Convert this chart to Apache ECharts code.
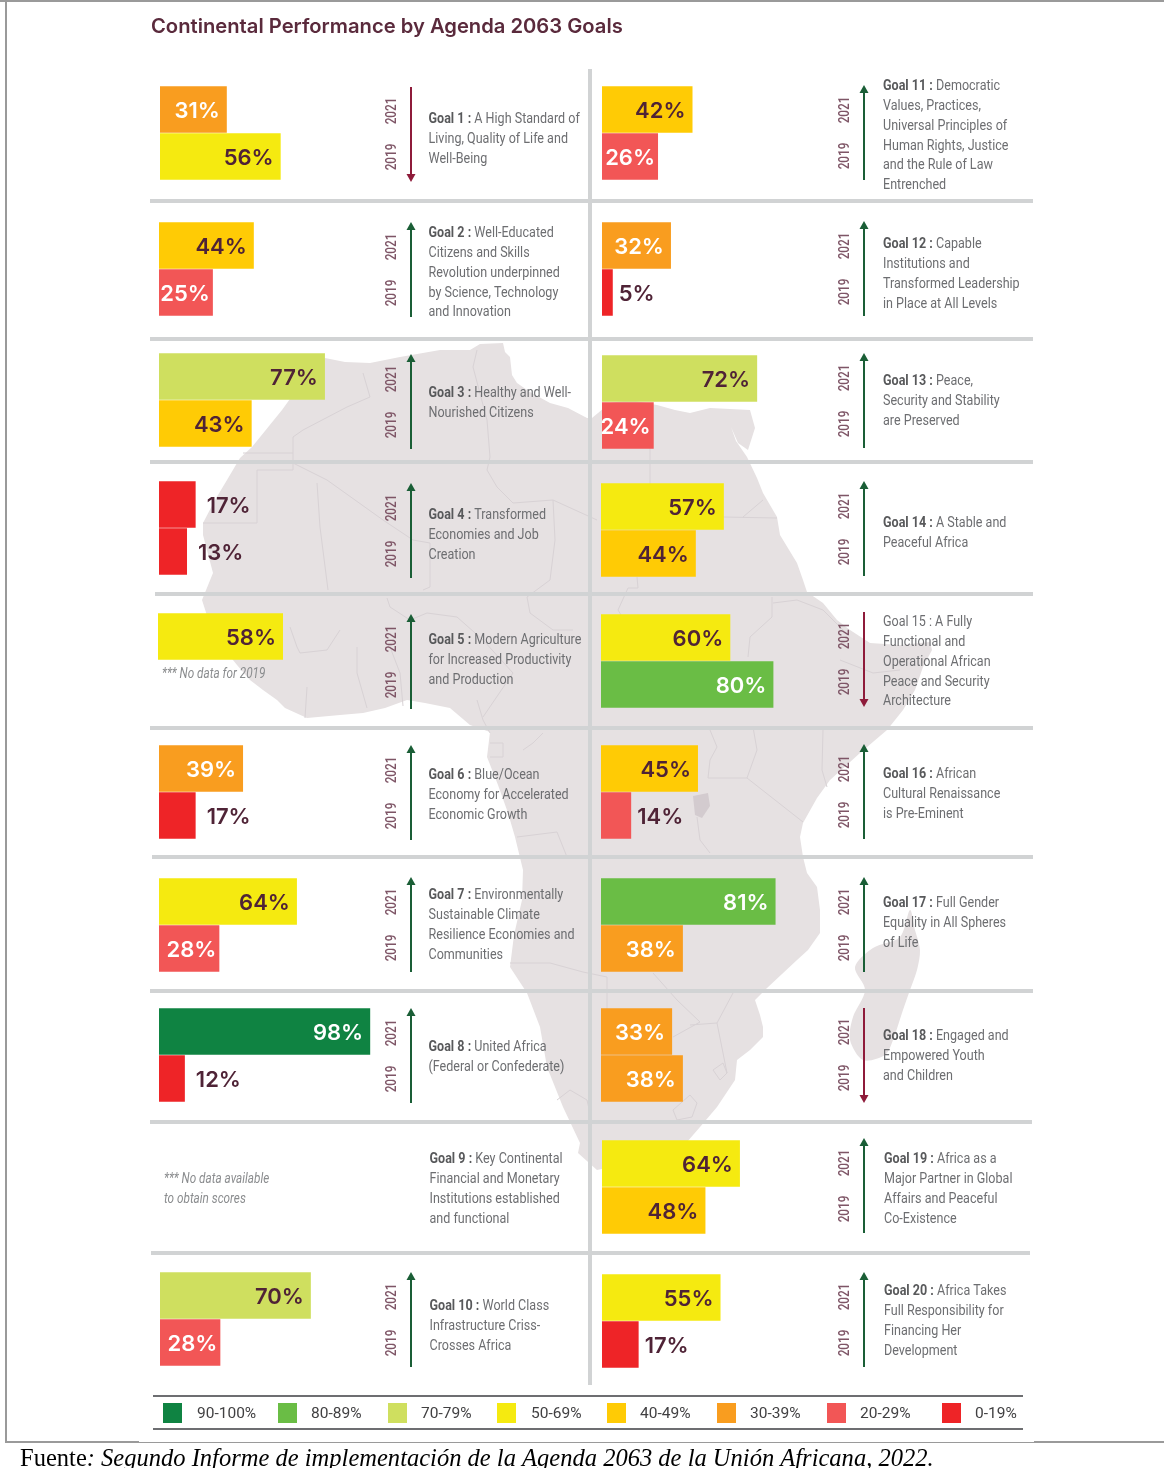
<!DOCTYPE html>
<html><head><meta charset="utf-8">
<style>html,body{margin:0;padding:0;background:#fff}#c{width:1164px;height:1468px}</style>
<script src="https://cdn.jsdelivr.net/npm/echarts@6/dist/echarts.min.js"></script>
</head><body><div id="c"></div>
<script>
// ---------- DATA ----------
const years = ['2021', '2019'];
const goalNames = ['Goal 1 :','Goal 2 :','Goal 3 :','Goal 4 :','Goal 5 :','Goal 6 :','Goal 7 :','Goal 8 :','Goal 9 :','Goal 10 :',
  'Goal 11 :','Goal 12 :','Goal 13 :','Goal 14 :','Goal 15 :','Goal 16 :','Goal 17 :','Goal 18 :','Goal 19 :','Goal 20 :'];
const values2021 = [31,44,77,17,58,39,64,98,null,70, 42,32,72,57,60,45,81,33,64,55];
const values2019 = [56,25,43,13,null,17,28,12,null,28, 26,5,24,44,80,14,38,38,48,17];
const goalLines = [
  ['A High Standard of','Living, Quality of Life and','Well-Being'],
  ['Well-Educated','Citizens and Skills','Revolution underpinned','by Science, Technology','and Innovation'],
  ['Healthy and Well-','Nourished Citizens'],
  ['Transformed','Economies and Job','Creation'],
  ['Modern Agriculture','for Increased Productivity','and Production'],
  ['Blue/Ocean','Economy for Accelerated','Economic Growth'],
  ['Environmentally','Sustainable Climate','Resilience Economies and','Communities'],
  ['United Africa','(Federal or Confederate)'],
  ['Key Continental','Financial and Monetary','Institutions established','and functional'],
  ['World Class','Infrastructure Criss-','Crosses Africa'],
  ['Democratic','Values, Practices,','Universal Principles of','Human Rights, Justice','and the Rule of Law','Entrenched'],
  ['Capable','Institutions and','Transformed Leadership','in Place at All Levels'],
  ['Peace,','Security and Stability','are Preserved'],
  ['A Stable and','Peaceful Africa'],
  ['A Fully','Functional and','Operational African','Peace and Security','Architecture'],
  ['African','Cultural Renaissance','is Pre-Eminent'],
  ['Full Gender','Equality in All Spheres','of Life'],
  ['Engaged and','Empowered Youth','and Children'],
  ['Africa as a','Major Partner in Global','Affairs and Peaceful','Co-Existence'],
  ['Africa Takes','Full Responsibility for','Financing Her','Development']
];
const bandLabels = ['90-100%','80-89%','70-79%','50-69%','40-49%','30-39%','20-29%','0-19%'];
const bandFloors = [90,80,70,50,40,30,20,0];
const bandColors = ['#0f8342','#6abd45','#cfdf5f','#f5ea10','#ffcb05','#f99d1f','#f25656','#ee2427'];
const whiteLabelBands = ['90-100%','80-89%','30-39%','20-29%'];
const titleText = 'Continental Performance by Agenda 2063 Goals';
const noteNoData2019 = '*** No data for 2019';
const noteNoDataGoal9 = '*** No data available\nto obtain scores';
const sourcePrefix = 'Fuente';
const sourceText = ': Segundo Informe de implementación de la Agenda 2063 de la Unión Africana, 2022.';

// ---------- LAYOUT ----------
const barLeft = [160,159,159,159,158,159,159,159,160,160, 602,602,602,601,601,601,601,601,602,602];
const barTop  = [86,222,353,481,613,745,878,1008,1140,1272, 86,222,355,483,614,745,878,1008,1140,1274];
const textX   = [428.5,428.5,428.5,428.5,428.5,428.5,428.5,428.5,429.5,429.5, 883,883,883,883,883,883,883,883,884,884];
const textTop = [118,232,392,514,639,774,894,1046,1158,1305, 85,243,380,522,621,773,902,1035,1158,1290];
const arrowTop= [87,223,355,484,615,746,878,1009,0,1273, 86,222,354,482,612,745,878,1008,1139,1273];
const unboldGoals = ['Goal 15 :'];
const bandOverride = {'Goal 16 :':{'2019':'20-29%'}};
const hLines = [[150,1033,201],[150,1033,339],[150,1033,462],[155,1033,594],[150,1033,728],[152,1033,857],[150,1033,991],[150,1032,1122],[151,1030,1253]];
const FULL_W = 215.5, BAR_H = 47, ARROW_LEN = 94, NARROW_X = 0.81;
const YEAR_X = [392, 845], ARROW_X = [411, 864], YEAR_DY = [24, 70];
const INK = '#4f2336', GREY = '#6d6e71', RULE = '#d1d3d4', LAND = '#e6e1e2', BORDER = '#d8d2d5';
const BASE = 'Roboto,sans-serif';

const africa = [[325,358],[345,362],[370,363],[400,357],[440,350],[470,350],[480,344],[503,343],[505,352],[510,357],[512,375],[517,383],[530,392],[550,403],[568,408],[587,418],[592,418],[610,403],[630,400],[657,405],[675,410],[690,413],[710,408],[730,409],[750,410],[755,428],[748,450],[738,443],[731,427],[736,441],[747,457],[757,478],[763,493],[777,517],[780,535],[797,563],[803,580],[807,592],[823,603],[837,620],[850,630],[870,643],[900,645],[930,642],[932,650],[923,667],[915,690],[903,710],[887,730],[860,753],[830,780],[817,798],[803,823],[800,837],[803,857],[807,873],[817,887],[820,910],[820,933],[808,950],[797,960],[767,988],[755,1000],[760,1015],[763,1027],[763,1037],[750,1050],[737,1060],[735,1080],[717,1107],[700,1127],[680,1150],[650,1162],[620,1165],[597,1170],[578,1153],[580,1143],[563,1107],[547,1067],[540,1027],[527,993],[510,967],[514,935],[522,900],[523,870],[515,837],[508,813],[498,785],[487,757],[490,732],[470,725],[450,708],[425,703],[407,700],[385,708],[363,713],[340,715],[307,718],[285,708],[277,700],[263,690],[250,680],[237,665],[225,650],[210,625],[202,600],[213,573],[203,535],[203,523],[215,500],[227,480],[240,458],[252,447],[282,410],[300,385]];
const madagascar = [[910,910],[915,930],[920,950],[917,970],[910,990],[903,1010],[893,1040],[885,1055],[863,1060],[850,1040],[853,1017],[865,990],[855,967],[873,948],[900,937]];
const lake = [[693,796],[708,793],[710,806],[702,818],[695,815]];
const borders = [
 [[293,437],[293,470],[257,470],[257,523],[248,523],[203,523]],[[243,453],[293,453]],
 [[293,437],[303,430],[347,407],[370,397],[363,373]],[[293,463],[327,480],[383,520],[413,540],[430,543]],
 [[317,483],[320,527],[328,590]],[[477,350],[473,367],[487,420],[490,457],[487,470],[497,487],[513,503],[553,500],[597,520]],
 [[430,543],[430,587],[423,590]],[[553,500],[555,540],[550,580],[527,597]],
 [[650,448],[650,517]],[[723,517],[777,518]],[[743,517],[763,500]],
 [[637,577],[638,588],[628,588],[618,610],[632,633]],[[772,597],[772,617],[750,637],[748,657]],
 [[773,603],[797,600],[823,610],[843,630]],[[840,660],[873,673],[900,670]],
 [[710,730],[717,747],[710,760],[708,778],[747,778],[803,822]],[[753,727],[757,750],[747,778]],
 [[823,730],[822,770],[827,787]],[[697,817],[700,840],[710,853]],
 [[490,743],[503,743],[503,757],[490,757]],[[523,750],[533,743],[543,733]],[[477,700],[483,720],[490,733]],
 [[517,837],[557,832],[567,857]],[[510,963],[550,963],[583,972],[607,977],[607,1010]],
 [[653,973],[677,1000],[700,1022],[673,1037]],[[733,993],[717,1023],[727,1073]],[[717,1023],[690,1025]],
 [[557,1100],[570,1090],[587,1100],[590,1113]],[[673,1110],[690,1095],[697,1103],[692,1117],[677,1120],[673,1110]],
 [[713,1070],[723,1063],[727,1073],[720,1080],[713,1070]],
 [[307,687],[305,718]],[[290,627],[297,647],[300,653],[327,650]],[[340,630],[327,650]],
 [[387,598],[390,607],[410,620],[427,613],[457,617],[483,640]],[[357,647],[357,673],[367,708]],
 [[390,647],[400,673],[403,706]],[[483,640],[513,673],[483,717]],[[527,597],[530,613],[553,630],[573,630]]
];
const legendSwatchX = [163,278,388,497,607,717,827,942];
const legendTextX = [197,311,421,531,640,750,860,975];

// ---------- BUILD ----------
function bandOf(goal, year, v) {
  const o = bandOverride[goal];
  if (o && o[year]) return o[year];
  return bandLabels[bandFloors.findIndex(f => v >= f)];
}
const grids = [], xAxes = [], yAxes = [], series = [], gfx = [];

gfx.push({type:'polygon', shape:{points:africa}, style:{fill:LAND}, silent:true});
gfx.push({type:'polygon', shape:{points:madagascar, smooth:0.3}, style:{fill:LAND}, silent:true});
borders.forEach(b => gfx.push({type:'polyline', shape:{points:b}, style:{stroke:BORDER, lineWidth:1, fill:null}, silent:true}));
gfx.push({type:'polygon', shape:{points:lake}, style:{fill:'#d3cbcf'}, silent:true});

hLines.forEach(l => gfx.push({type:'rect', shape:{x:l[0], y:l[2]-2, width:l[1]-l[0], height:4}, style:{fill:RULE}, silent:true}));
gfx.push({type:'rect', shape:{x:588, y:69, width:4, height:1316}, style:{fill:RULE}, silent:true});

// page frame
[[0,0,1164,2,'#9a9a9a'],[5,0,2,1442,'#9a9a9a'],[5,1441,134,2,'#9a9a9a'],[139,1442,895,1,'#9a9a9a'],[1034,1441,130,2,'#9a9a9a']]
  .forEach(r => gfx.push({type:'rect', shape:{x:r[0], y:r[1], width:r[2], height:r[3]}, style:{fill:r[4]}, silent:true}));

goalNames.forEach((name, i) => {
  const col = i < 10 ? 0 : 1;
  const v21 = values2021[i], v19 = values2019[i];
  // goal text
  const bold = !unboldGoals.includes(name);
  const txt = goalLines[i].map((ln, k) => k === 0 ? `{${bold?'b':'n'}|${name}}{n| ${ln}}` : `{n|${ln}}`).join('\n');
  gfx.push({type:'text', x:textX[i], y:textTop[i]-8.5, scaleX:NARROW_X, silent:true, style:{text:txt, align:'left', verticalAlign:'top',
    rich:{b:{font:`bold 15.5px ${BASE}`, fill:'#58595b', lineHeight:19.8}, n:{font:`15.5px ${BASE}`, fill:GREY, lineHeight:19.8}}}});
  if (v21 === null) return;
  // arrow (direction from data)
  const up = v19 === null || v21 >= v19;
  const ax = ARROW_X[col], at = arrowTop[i], ab = at + ARROW_LEN, color = up ? '#1a5e36' : '#8e1b3a';
  gfx.push({type:'line', shape:{x1:ax, y1:at+(up?3:0), x2:ax, y2:ab-(up?0:3)}, style:{stroke:color, lineWidth:2}, silent:true});
  gfx.push({type:'polygon', silent:true, style:{fill:color},
    shape:{points: up ? [[ax,at-1],[ax-4.5,at+7],[ax+4.5,at+7]] : [[ax,ab+1],[ax-4.5,ab-7],[ax+4.5,ab-7]]}});
  // year captions
  years.forEach((yr, k) => gfx.push({type:'text', x:YEAR_X[col], y:at+YEAR_DY[k], rotation:Math.PI/2, scaleX:NARROW_X, silent:true,
    style:{text:yr, font:`500 14.5px ${BASE}`, fill:'#7e5566', align:'center', verticalAlign:'middle'}}));
  // chart
  const g = grids.length;
  grids.push({left:barLeft[i], top:barTop[i], width:FULL_W, height:BAR_H*2});
  xAxes.push({gridIndex:g, type:'value', min:0, max:100, show:false});
  yAxes.push({gridIndex:g, type:'category', inverse:true, data:years, show:false});
  const data = [[v21,'2021'],[v19,'2019']].map(([v, yr]) => {
    if (v === null) return {value:null};
    const band = bandOf(name, yr, v);
    const outside = v < 20;
    return {value:v, itemStyle:{color:bandColors[bandLabels.indexOf(band)]},
      label:{position: outside ? 'right' : 'insideRight', distance: outside ? (col ? 6 : 11) : (v < 30 ? 3 : 7),
        color: !outside && whiteLabelBands.includes(band) ? '#ffffff' : INK}};
  });
  series.push({type:'bar', name:name, xAxisIndex:g, yAxisIndex:g, data, barWidth:BAR_H-0.5, barCategoryGap:0, silent:true,
    label:{show:true, formatter:'{c}%', fontFamily:'Inter', fontWeight:600, fontSize:22, offset:[0,1.5]}});
});

// notes
gfx.push({type:'text', x:162, y:667, scaleX:NARROW_X, silent:true, style:{text:noteNoData2019, font:`italic 14.5px ${BASE}`, fill:'#8a8c8e'}});
gfx.push({type:'text', x:164, y:1169, scaleX:NARROW_X, silent:true, style:{text:noteNoDataGoal9, font:`italic 14.5px ${BASE}`, fill:'#8a8c8e', lineHeight:20}});

// legend
[1396,1429].forEach(y => gfx.push({type:'rect', shape:{x:153, y:y-1, width:870, height:2}, style:{fill:'#6d6e71'}, silent:true}));
bandLabels.forEach((b, i) => {
  gfx.push({type:'rect', shape:{x:legendSwatchX[i], y:1403, width:19, height:20}, style:{fill:bandColors[i]}, silent:true});
  gfx.push({type:'text', x:legendTextX[i], y:1414, silent:true, style:{text:b, font:'15.5px Roboto', fill:'#414042', verticalAlign:'middle', align:'left'}});
});

// source
gfx.push({type:'text', x:20, y:1446, scaleX:0.962, silent:true, style:{
  text:`{r|${sourcePrefix}}{i|${sourceText}}`,
  rich:{r:{font:'25.5px "Liberation Serif"', fill:'#000'}, i:{font:'italic 25.5px "Liberation Serif"', fill:'#000'}}}});

const chart = echarts.init(document.getElementById('c'), null, {renderer:'canvas', width:1164, height:1468});
chart.setOption({
  animation:false, backgroundColor:'#fff',
  title:{text:titleText, left:151, top:17, padding:0, textStyle:{fontFamily:'Inter', fontWeight:600, fontSize:20.2, color:'#5a2a3c'}},
  tooltip:{show:false},
  grid:grids, xAxis:xAxes, yAxis:yAxes, series,
  graphic:{elements:gfx}
});
</script></body></html>
